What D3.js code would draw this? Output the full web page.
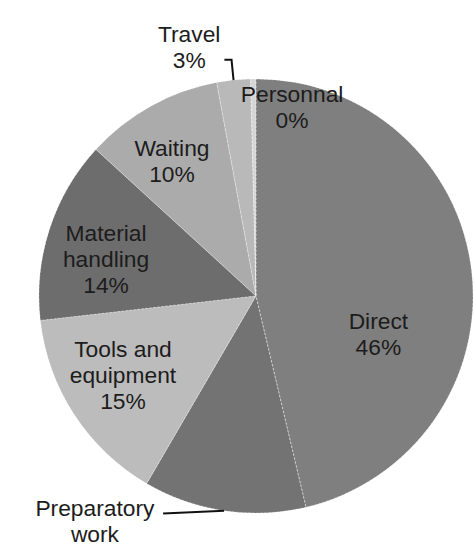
<!DOCTYPE html>
<html>
<head>
<meta charset="utf-8">
<script src="https://cdn.jsdelivr.net/npm/d3@7"></script>
<style>
	html, body { margin: 0; padding: 0; background: #fff; }
	svg text { font-family: "Liberation Sans", Arial, sans-serif; fill: #1c1c1c; }
</style>
</head>
<body>
<svg id="container"></svg>
<script>
// categories, clockwise from 12 o'clock
const categories = ["Direct", "Preparatory work", "Tools and equipment", "Material handling", "Waiting", "Travel", "Personnal"];
// share of time (%)
const shares = [46.3, 12.1, 14.8, 13.6, 10.3, 2.5, 0.4];
// label text as it is broken on the chart
const labelLines = [["Direct"], ["Preparatory", "work"], ["Tools and", "equipment"], ["Material", "handling"], ["Waiting"], ["Travel"], ["Personnal"]];
const showPct = [true, false, true, true, true, true, true];

// styles and layout, kept apart from the data
const fills = ["#7f7f7f", "#737373", "#bcbcbc", "#6d6d6d", "#ababab", "#b9b9b9", "#d6d6d6"];
const labelAngle = [107, 215.6, 239.3, 283.9, 328.2, 345, 10.8]; // degrees, clockwise from top
const labelRadius = [0.59, 1.275, 0.713, 0.712, 0.735, 1.19, 0.887]; // fraction of pie radius
const leaders = [false, true, false, false, false, true, false];

function drawChart() {
	const width = 475, height = 546;
	const cx = 256, cy = 296, r = 217;
	const fontSize = 22.8, lineHeight = 26;

	var svg = d3.select("#container")
		.attr("width", width)
		.attr("height", height);

	var g = svg.append("g")
		.attr("transform", "translate(" + cx + "," + cy + ")");

	const total = d3.sum(shares);

	var pie = d3.pie().sort(null).value(d => d);
	var arc = d3.arc().innerRadius(0).outerRadius(r);
	var arcs = pie(shares);

	// slices
	g.selectAll("path.slice")
		.data(arcs)
		.enter()
		.append("path")
		.attr("class", "slice")
		.attr("d", arc)
		.attr("fill", (d, i) => fills[i]);

	// faint dotted borders between slices
	g.selectAll("path.edge")
		.data(arcs)
		.enter()
		.append("path")
		.attr("class", "edge")
		.attr("d", arc)
		.attr("fill", "none")
		.attr("stroke", "rgba(255,255,255,0.35)")
		.attr("stroke-width", 1)
		.attr("stroke-dasharray", "2,2");

	// labels
	const toXY = (deg, rad) => {
		const a = deg * Math.PI / 180;
		return [Math.sin(a) * rad, -Math.cos(a) * rad];
	};

	arcs.forEach((d, i) => {
		const lines = labelLines[i].slice();
		if (showPct[i]) lines.push(Math.round(shares[i] / total * 100) + "%");
		const p = toXY(labelAngle[i], labelRadius[i] * r);
		const top = p[1] - (lines.length - 1) * lineHeight / 2 + fontSize * 0.36;

		var text = g.append("text")
			.attr("text-anchor", "middle")
			.style("font-size", fontSize + "px");
		lines.forEach((l, k) => {
			text.append("tspan")
				.attr("x", p[0])
				.attr("y", top + k * lineHeight)
				.text(l);
		});

		if (leaders[i]) {
			const mid = (d.startAngle + d.endAngle) / 2 * 180 / Math.PI;
			const edge = toXY(mid, r);
			const bb = text.node().getBBox();
			let pts;
			if (edge[1] < 0) {
				// line leaves the right end of the second line, then turns down to the rim
				const y0 = top + lineHeight - fontSize * 0.35;
				pts = [[bb.x + bb.width + 4, y0], [edge[0] - 2, y0], [edge[0], edge[1]]];
			} else {
				const y0 = top - fontSize * 0.12;
				pts = [[bb.x + bb.width + 8, y0], [edge[0], edge[1]]];
			}
			g.append("path")
				.attr("d", d3.line()(pts))
				.attr("fill", "none")
				.attr("stroke", "#111")
				.attr("stroke-width", 2);
		}
	});
}

drawChart();
</script>
</body>
</html>
